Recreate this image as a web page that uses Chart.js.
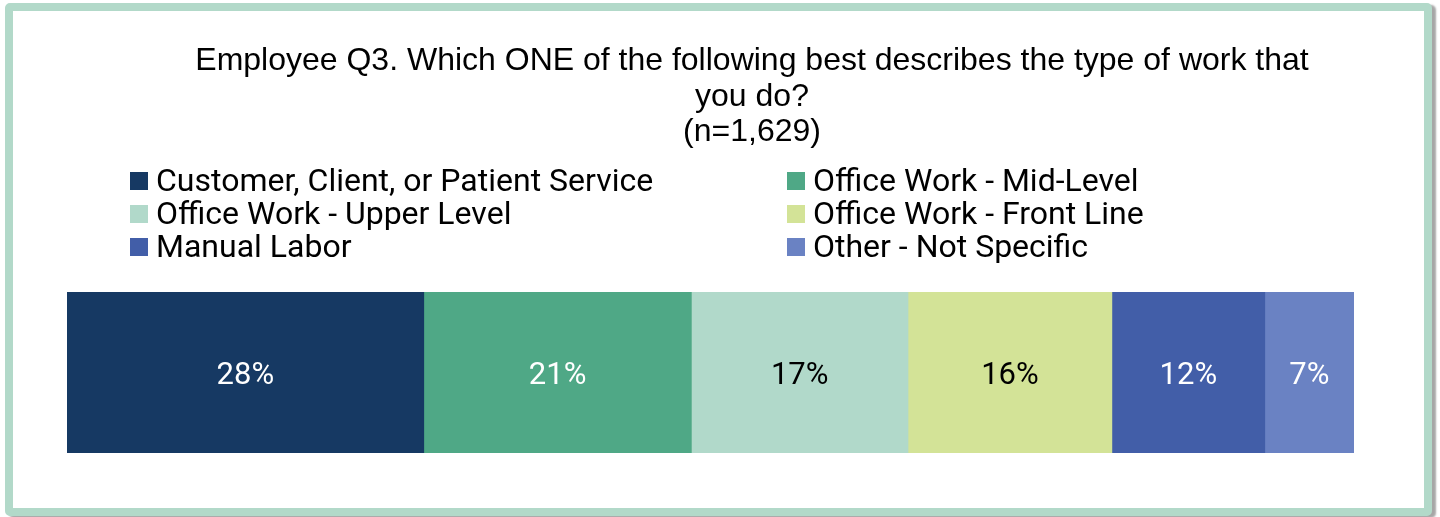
<!DOCTYPE html>
<html>
<head>
<meta charset="utf-8">
<script src="https://cdn.jsdelivr.net/npm/chart.js@4.4.1/dist/chart.umd.min.js"></script>
<style>
  html, body { margin: 0; padding: 0; background: #fff; }
  #frame {
    position: absolute;
    left: 5px; top: 3px;
    width: 1411px; height: 497px;
    border: 8px solid #b2d9c9;
    border-radius: 5px;
    box-shadow: 4px 2px 2px rgba(0, 0, 0, 0.35);
    background: #fff;
  }
  canvas { display: block; }
</style>
</head>
<body>
<div id="frame"><canvas id="myChart" width="1411" height="497"></canvas></div>
<script>
// Question title, one entry per line
var titleLines = [
  "Employee Q3. Which ONE of the following best describes the type of work that",
  "you do?",
  "(n=1,629)"
];
var categories = ["Employee"];
var seriesNames = [
  "Customer, Client, or Patient Service",
  "Office Work - Mid-Level",
  "Office Work - Upper Level",
  "Office Work - Front Line",
  "Manual Labor",
  "Other - Not Specific"
];
// percent of respondents
var seriesValues = [28, 21, 17, 16, 12, 7];
var seriesColors = ["#163963", "#4fa886", "#b1d9ca", "#d3e397", "#425ea8", "#6a82c3"];
var labelColors = ["#ffffff", "#ffffff", "#000000", "#000000", "#ffffff", "#ffffff"];

var total = seriesValues.reduce(function(a, b) { return a + b; }, 0);

var datasets = [];
for (var i = 0; i < seriesNames.length; i++) {
  datasets.push({
    label: seriesNames[i],
    data: [seriesValues[i]],
    backgroundColor: seriesColors[i],
    borderWidth: 0,
    barPercentage: 1,
    categoryPercentage: 1
  });
}

// title and two-column legend across the top
var headerPlugin = {
  id: "header",
  afterDraw: function(chart) {
    var ctx = chart.ctx;
    ctx.save();
    ctx.fillStyle = "#000";
    ctx.textAlign = "center";
    ctx.textBaseline = "alphabetic";
    ctx.font = "32px 'Liberation Sans', Arial, sans-serif";
    var titleY = [59, 95, 130];
    for (var t = 0; t < titleLines.length; t++) {
      ctx.fillText(titleLines[t], 739, titleY[t]);
    }

    ctx.textAlign = "left";
    ctx.font = "32px Roboto, sans-serif";
    var colX = [117, 774];
    var rowY = [180, 213, 246];
    chart.data.datasets.forEach(function(ds, k) {
      var x = colX[k % 2];
      var y = rowY[Math.floor(k / 2)];
      ctx.fillStyle = ds.backgroundColor;
      ctx.fillRect(x, y - 19, 18, 18);
      ctx.fillStyle = "#000";
      ctx.fillText(ds.label, x + 26, y);
    });
    ctx.restore();
  }
};

// percent labels inside each segment
var valueLabels = {
  id: "valueLabels",
  afterDatasetsDraw: function(chart) {
    var ctx = chart.ctx;
    ctx.save();
    ctx.font = "31px Roboto, sans-serif";
    ctx.textAlign = "center";
    ctx.textBaseline = "alphabetic";
    chart.data.datasets.forEach(function(ds, k) {
      chart.getDatasetMeta(k).data.forEach(function(bar, j) {
        var cx = (bar.x + bar.base) / 2;
        ctx.fillStyle = labelColors[k];
        ctx.fillText(ds.data[j] + "%", cx, bar.y + 11);
      });
    });
    ctx.restore();
  }
};

var ctx = document.getElementById("myChart");
var myChart = new Chart(ctx, {
  type: "bar",
  data: {
    labels: categories,
    datasets: datasets
  },
  options: {
    indexAxis: "y",
    responsive: false,
    animation: false,
    devicePixelRatio: 1,
    layout: {
      padding: { left: 54, right: 70, top: 281, bottom: 55 }
    },
    scales: {
      x: { stacked: true, min: 0, max: total, display: false },
      y: { stacked: true, display: false }
    },
    plugins: {
      legend: { display: false },
      title: { display: false },
      tooltip: { enabled: false }
    }
  },
  plugins: [headerPlugin, valueLabels]
});
</script>
</body>
</html>
